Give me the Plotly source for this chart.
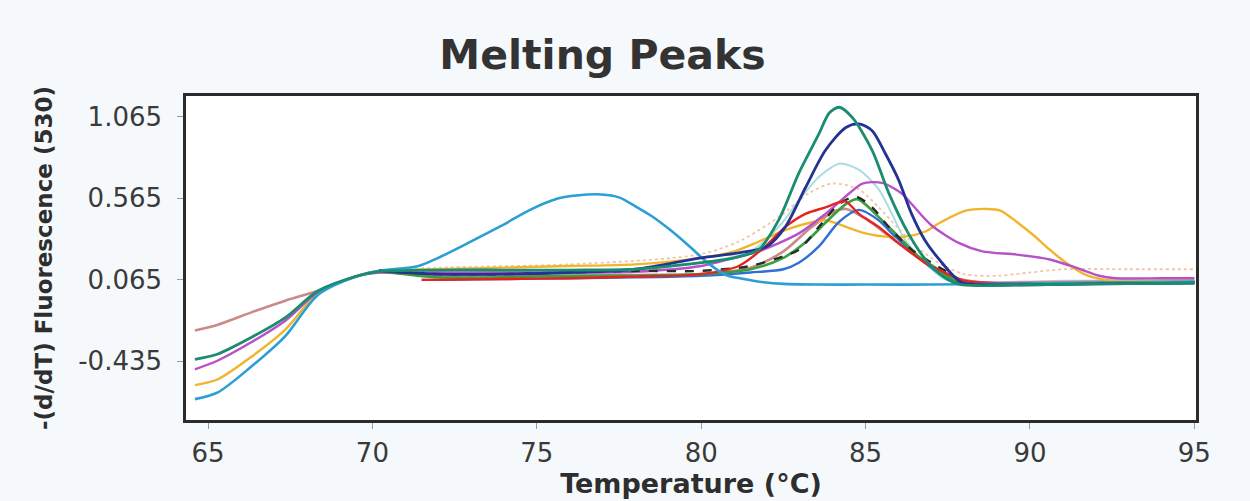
import plotly.graph_objects as go

# ---- data (temperature °C, -(d/dT) fluorescence) ----
cyan_t = [64.6, 65.3, 66.3, 67.35, 68.35, 69.57, 70.2, 71.4, 72.0, 72.9, 73.9, 74.75, 75.66, 76.2, 76.97,
          77.5, 78.0, 78.5, 79.1, 79.7, 80.2, 80.75, 81.3, 81.9, 82.5, 83.5, 85, 87, 89, 91, 93, 95]
cyan_v = [-0.667, -0.625, -0.47, -0.28, -0.026, 0.09, 0.12, 0.15, 0.2, 0.29, 0.394, 0.49, 0.565, 0.583, 0.589,
          0.571, 0.516, 0.455, 0.364, 0.26, 0.169, 0.095, 0.07, 0.05, 0.04, 0.036, 0.036, 0.036, 0.04, 0.045, 0.05, 0.055]

teal_t = [64.6, 65.3, 66.3, 67.35, 68.35, 69.57, 70.2, 72, 74, 76, 78, 80, 81, 81.75, 82.36, 82.97, 83.58,
          83.9, 84.2, 84.6, 85.2, 85.7, 86.3, 86.9, 87.5, 87.9, 88.5, 90, 92, 95]
teal_v = [-0.423, -0.39, -0.29, -0.167, -0.002, 0.09, 0.115, 0.125, 0.125, 0.125, 0.13, 0.17, 0.2, 0.25, 0.433,
          0.72, 0.96, 1.09, 1.124, 1.06, 0.86, 0.6, 0.35, 0.17, 0.067, 0.035, 0.03, 0.035, 0.04, 0.045]

navy_t = [70.2, 72, 74, 76, 78, 80, 81.14, 82.0, 82.56, 83.17, 83.78, 84.4, 84.8, 85.2, 85.6, 86.0, 86.4,
          86.8, 87.24, 87.9, 88.5, 90, 92, 95]
navy_v = [0.12, 0.1, 0.1, 0.11, 0.13, 0.2, 0.23, 0.27, 0.39, 0.63, 0.86, 1.0, 1.022, 0.98, 0.84, 0.68, 0.47,
          0.31, 0.19, 0.05, 0.035, 0.035, 0.04, 0.045]

pale_t = [70.2, 72, 76, 80, 81.5, 82.4, 83.0, 83.6, 84.2, 84.8, 85.4, 85.8, 86.2, 86.9, 87.5, 88.5, 91, 95]
pale_v = [0.12, 0.11, 0.11, 0.17, 0.24, 0.40, 0.56, 0.70, 0.778, 0.74, 0.62, 0.47, 0.31, 0.15, 0.06, 0.05, 0.06, 0.06]

peach_t = [70.2, 72, 76, 79.93, 81.14, 82.36, 83.3, 84.0, 84.8, 85.4, 86, 86.6, 87.3, 88, 89, 90, 91, 93, 95]
peach_v = [0.12, 0.14, 0.16, 0.22, 0.30, 0.45, 0.60, 0.656, 0.62, 0.51, 0.38, 0.26, 0.16, 0.10, 0.09, 0.11, 0.13, 0.13, 0.13]

purple_t = [64.6, 65.3, 66.3, 67.35, 68.35, 69.57, 70.2, 72, 74, 76, 78, 80, 81, 81.75, 82.97, 83.78, 84.5,
            84.9, 85.5, 86.1, 86.4, 87.0, 87.85, 88.55, 89.6, 90.6, 91.4, 92.1, 92.6, 94, 95]
purple_v = [-0.484, -0.43, -0.32, -0.186, -0.01, 0.09, 0.11, 0.11, 0.11, 0.11, 0.115, 0.15, 0.2, 0.24, 0.35,
            0.47, 0.595, 0.656, 0.66, 0.595, 0.53, 0.40, 0.29, 0.24, 0.22, 0.19, 0.14, 0.09, 0.075, 0.075, 0.075]

orange_t = [64.6, 65.3, 66.3, 67.35, 68.35, 69.57, 70.2, 72, 74, 76, 78, 80, 81, 81.75, 82.56, 83.4, 83.8,
            84.4, 85.0, 85.6, 86.2, 86.8, 87.3, 88.05, 88.7, 89.1, 89.6, 90.1, 90.6, 91.1, 91.7, 92.3, 93, 95]
orange_v = [-0.581, -0.545, -0.41, -0.24, -0.015, 0.09, 0.12, 0.13, 0.14, 0.15, 0.16, 0.2, 0.24, 0.30, 0.37,
            0.42, 0.43, 0.39, 0.35, 0.33, 0.33, 0.36, 0.42, 0.49, 0.50, 0.49, 0.42, 0.34, 0.25, 0.17, 0.095,
            0.065, 0.06, 0.06]

red_t = [71.5, 72, 74, 76, 78, 80, 81.14, 81.95, 82.56, 83.17, 83.78, 84.19, 84.4, 84.8, 85.4, 86.0, 86.4,
         86.8, 87.3, 88, 89, 90]
red_v = [0.065, 0.065, 0.07, 0.075, 0.085, 0.1, 0.15, 0.27, 0.39, 0.47, 0.51, 0.54, 0.545, 0.47, 0.39, 0.29,
         0.23, 0.17, 0.12, 0.06, 0.045, 0.045]

black_t = [70.2, 72, 74, 76, 78, 80, 81.5, 82.5, 82.97, 83.58, 84.19, 84.7, 85.2, 85.7, 86.4, 87.0, 87.6,
           88.0, 89, 90.5, 92, 95]
black_v = [0.12, 0.1, 0.1, 0.11, 0.12, 0.12, 0.15, 0.21, 0.25, 0.39, 0.53, 0.575, 0.51, 0.39, 0.25, 0.17,
           0.10, 0.05, 0.04, 0.04, 0.045, 0.05]

green_t = [70.2, 72, 74, 76, 78, 80, 81.5, 82.5, 83.2, 83.8, 84.4, 84.75, 85.4, 86.0, 86.6, 87.2, 87.8,
           88.5, 90, 95]
green_v = [0.12, 0.08, 0.08, 0.09, 0.09, 0.1, 0.13, 0.2, 0.3, 0.42, 0.53, 0.56, 0.45, 0.33, 0.21, 0.13,
           0.05, 0.04, 0.04, 0.05]

blue_t = [71.5, 72, 74, 76, 78, 80, 81.5, 82.5, 82.97, 83.58, 84.19, 84.8, 85.4, 85.8, 86.4, 87.0, 87.6,
          88.5, 90.5, 95]
blue_v = [0.065, 0.065, 0.07, 0.075, 0.08, 0.09, 0.11, 0.13, 0.17, 0.27, 0.42, 0.494, 0.43, 0.35, 0.24,
          0.14, 0.06, 0.04, 0.04, 0.05]

rose_t = [64.6, 65.3, 66.3, 67.35, 68.35, 69.57, 70.2, 72, 74, 76, 78, 80, 81.5, 82.5, 83.3, 84.0, 84.4,
          85.0, 85.8, 86.6, 87.5, 88.5, 90, 95]
rose_v = [-0.246, -0.21, -0.136, -0.063, -0.002, 0.09, 0.11, 0.09, 0.09, 0.09, 0.095, 0.1, 0.14, 0.24,
          0.38, 0.48, 0.5, 0.44, 0.32, 0.2, 0.09, 0.05, 0.05, 0.06]

series = [
    ("peach", peach_t, peach_v, "#f3c4a6", 1.8, "dot"),
    ("pale", pale_t, pale_v, "#a9dde0", 2.0, "solid"),
    ("rose", rose_t, rose_v, "#c98a88", 2.6, "solid"),
    ("orange", orange_t, orange_v, "#f0b52a", 2.4, "solid"),
    ("purple", purple_t, purple_v, "#b850c8", 2.4, "solid"),
    ("blue", blue_t, blue_v, "#2f6fd6", 2.4, "solid"),
    ("green", green_t, green_v, "#3b9f3e", 2.6, "solid"),
    ("black", black_t, black_v, "#2a2a2a", 2.4, "dash"),
    ("red", red_t, red_v, "#e6241f", 2.4, "solid"),
    ("cyan", cyan_t, cyan_v, "#2b9fd3", 2.6, "solid"),
    ("navy", navy_t, navy_v, "#233393", 2.8, "solid"),
    ("teal", teal_t, teal_v, "#1a8c70", 2.8, "solid"),
]

x_ticks = [65, 70, 75, 80, 85, 90, 95]
y_ticks = [1.065, 0.565, 0.065, -0.435]
y_tick_text = ["1.065", "0.565", "0.065", "-0.435"]

fig = go.Figure()
for name, t, v, color, w, dash in series:
    fig.add_trace(go.Scatter(x=t, y=v, mode="lines", name=name,
                             line=dict(color=color, width=w, dash=dash, shape="spline", smoothing=0.8),
                             showlegend=False, hoverinfo="skip"))

fig.update_layout(
    width=1250, height=501,
    margin=dict(l=186, r=54, t=96, b=81, autoexpand=False),
    paper_bgcolor="#f5f9fb",
    plot_bgcolor="#ffffff",
    title=dict(text="<b>Melting Peaks</b>", x=0.482, xanchor="center", y=0.89, yanchor="middle",
               font=dict(family="DejaVu Sans", size=41, color="#333333")),
    font=dict(family="DejaVu Sans", color="#3a3a3a"),
)
fig.update_xaxes(
    range=[64.33, 95.05], tickvals=x_ticks, ticktext=[str(v) for v in x_ticks],
    ticks="outside", ticklen=6, tickcolor="#9a9a9a", tickwidth=1, ticklabelstandoff=2,
    tickfont=dict(family="DejaVu Sans", size=26, color="#3a3a3a"),
    showgrid=False, zeroline=False, automargin=False,
    showline=True, linecolor="#2b2b2b", linewidth=2.5, mirror=True,
    title=dict(text="<b>Temperature (°C)</b>", standoff=4,
               font=dict(family="DejaVu Sans", size=27, color="#2e2e2e")),
)
fig.update_yaxes(
    range=[-0.795, 1.193], tickvals=y_ticks, ticktext=y_tick_text,
    ticks="outside", ticklen=6, tickcolor="#9a9a9a", tickwidth=1, ticklabelstandoff=10,
    tickfont=dict(family="DejaVu Sans", size=26, color="#3a3a3a"),
    showgrid=False, zeroline=False, automargin=False,
    showline=True, linecolor="#2b2b2b", linewidth=2.5, mirror=True,
    title=dict(text="<b>-(d/dT) Fluorescence (530)</b>", standoff=20,
               font=dict(family="DejaVu Sans", size=23, color="#2e2e2e")),
)

fig.write_html(
    "out.html",
    config={"displayModeBar": False},
    post_script="document.body.style.margin='0';document.body.style.overflow='hidden';",
)
